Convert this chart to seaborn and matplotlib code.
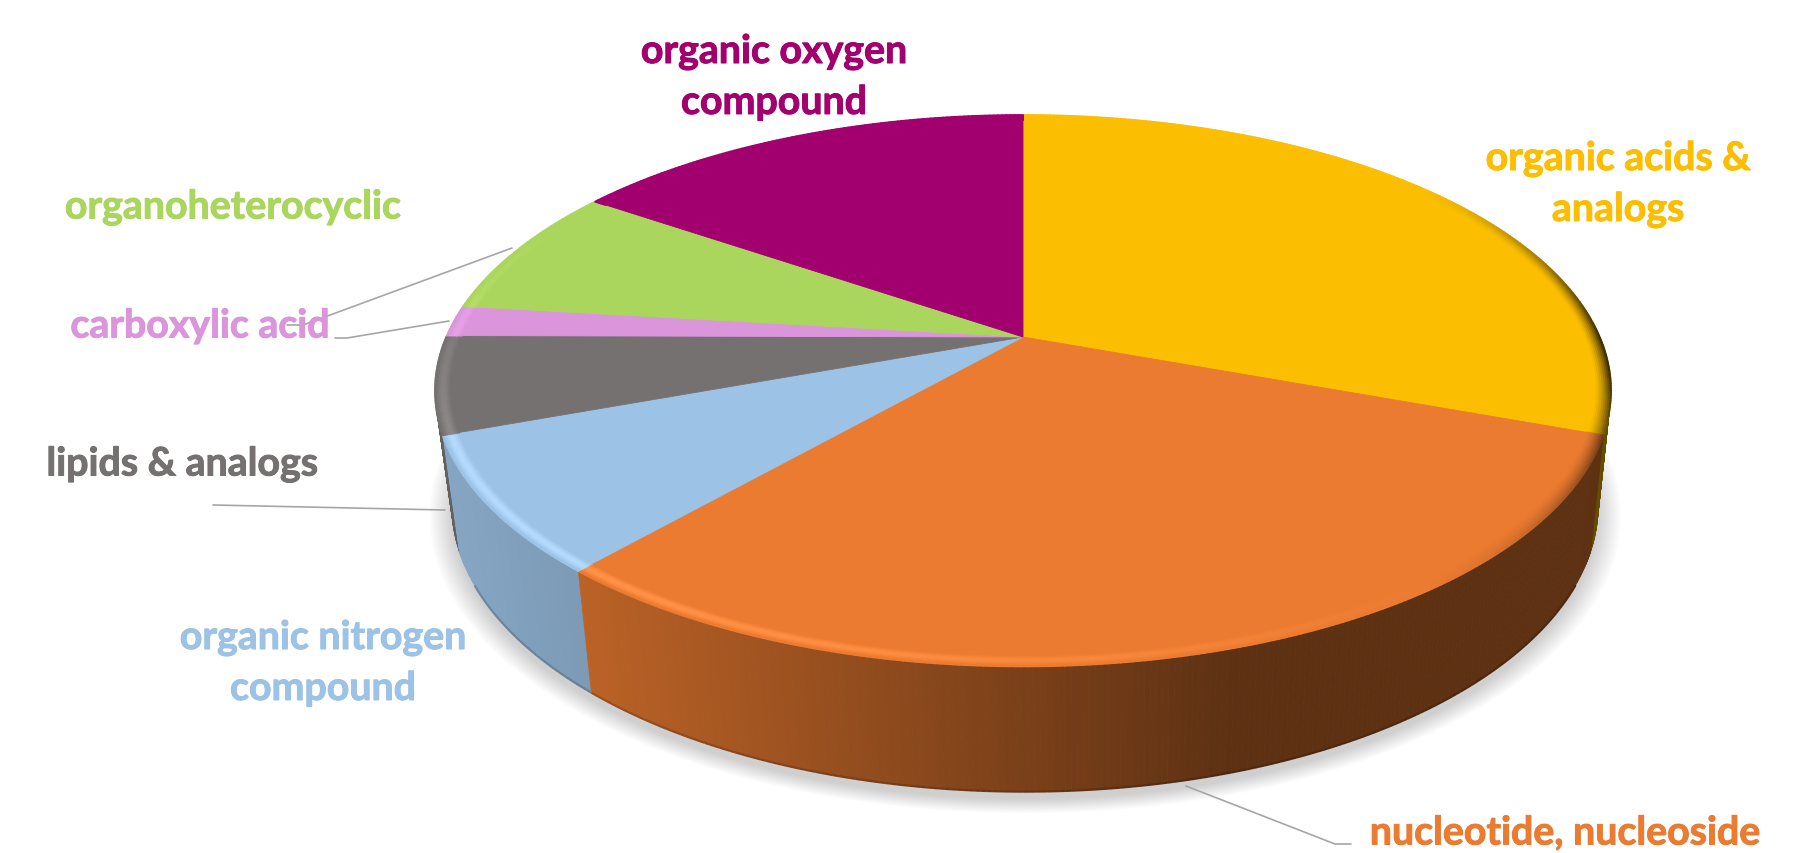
import numpy as np
import matplotlib
matplotlib.use("Agg")
import matplotlib.pyplot as plt
import matplotlib.patheffects as pe
import matplotlib.transforms as mtrans
from matplotlib.collections import LineCollection, PolyCollection
import seaborn as sns

# values, clockwise from 12 o'clock
categories = ["organic acids &\nanalogs", "nucleotide, nucleoside", "organic nitrogen\ncompound",
              "lipids & analogs", "carboxylic acid", "organoheterocyclic", "organic oxygen\ncompound"]
values = [30.6, 30.8, 7.95, 5.7, 1.8, 7.7, 15.4]
hex_colors = ["#FBBE00", "#EB7B30", "#9CC2E5", "#767171", "#DB95DB", "#AAD65E", "#A3006F"]

# label centres in pixels
label_x = [1618, 1565, 323, 182, 200, 233, 774]
label_y = [185, 834, 664, 465, 327, 208, 78]

# leader lines
leaders = [
    ([1186, 1335, 1351], [787, 845, 845]),
    ([213, 445], [506, 511]),
    ([449, 347, 335], [322, 339, 339]),
    ([512, 303, 287], [249, 326, 326]),
]

# tilt of the disc, in pixels
CX, CY = 1023, 338
A, B, K = 576.5, 265.0, 0.195
BOTTOM_X, BOTTOM_DX, BOTTOM_CY, BOTTOM_B = 0.975, 2, 451, 275

sns.set_theme(style="white")
plt.rcParams["font.family"] = ["Lato", "DejaVu Sans"]
palette = sns.color_palette(hex_colors)


def top_xy(u, v):
    w = 1 + K * v
    return CX + A * u / w, CY - B * v / w


def bottom_xy(u, v):
    w = 1 + K * v
    return CX + BOTTOM_DX + BOTTOM_X * A * u / w, BOTTOM_CY - BOTTOM_B * v / w


class Tilt(mtrans.Transform):
    input_dims = 2
    output_dims = 2
    is_separable = False
    has_inverse = False

    def transform_non_affine(self, values):
        values = np.asarray(values, dtype=float)
        x, y = top_xy(values[:, 0], values[:, 1])
        return np.column_stack([x, y])


def wall_shade(x):
    return np.interp(x, [455, 590, 1000, 1230], [0.85, 0.79, 0.535, 0.40])


fig = plt.figure(figsize=(18.19, 8.54), dpi=100)
ax = fig.add_axes([0, 0, 1, 1])

wedges, _ = ax.pie(values, colors=palette, startangle=90, counterclock=False,
                   wedgeprops={"linewidth": 0.6, "zorder": 5})
ax.set_aspect("auto")
ax.set_xlim(0, 1819)
ax.set_ylim(854, 0)
ax.axis("off")

tilt = Tilt()
for w, c in zip(wedges, palette):
    w.set_transform(tilt + ax.transData)
    w.set_edgecolor(c)
    w.set_clip_on(False)

# soft shadow under the disc
t = np.radians(np.linspace(0, 360, 361))
for i in range(24):
    grow = 1.04 - i * 0.0018
    sx, sy = bottom_xy(np.cos(t), np.sin(t))
    sx = CX + (sx - CX) * grow
    sy = (BOTTOM_CY + 8) + (sy - BOTTOM_CY) * grow
    ax.fill(sx, sy, color="#808080", alpha=0.016, lw=0, zorder=1)

# side wall, strips from back to front
strips = []
for w, c in zip(wedges, palette):
    for a0 in np.arange(w.theta1, w.theta2, 0.5):
        a1 = min(a0 + 0.5, w.theta2)
        mid = np.radians((a0 + a1) / 2)
        if np.sin(mid) > 0.1:
            continue
        r0, r1 = np.radians(a0), np.radians(a1)
        x0, y0 = top_xy(np.cos(r0), np.sin(r0))
        x1, y1 = top_xy(np.cos(r1), np.sin(r1))
        x2, y2 = bottom_xy(np.cos(r1), np.sin(r1))
        x3, y3 = bottom_xy(np.cos(r0), np.sin(r0))
        strips.append((np.sin(mid), [(x0, y0), (x1, y1), (x2, y2), (x3, y3)],
                       np.array(c) * wall_shade((x0 + x1) / 2)))
strips.sort(key=lambda s: -s[0])
ax.add_collection(PolyCollection([s[1] for s in strips], facecolors=[s[2] for s in strips],
                                 edgecolors=[s[2] for s in strips], linewidths=0.6, zorder=3))

# darker lip at the foot of the wall, front part only
lip_segs, lip_cols = [], []
for s in strips:
    if s[0] < -0.45:
        lip_segs.append([s[1][3], s[1][2]])
        lip_cols.append(s[2] * 0.82)
ax.add_collection(LineCollection(lip_segs, colors=lip_cols, linewidths=1.6, zorder=3.5))

# bevel along the rim of the top face
segs, cols = [], []
radii = np.linspace(0.974, 1.0, 9)
for w, c in zip(wedges, palette):
    c = np.array(c)
    angles = np.arange(w.theta1, w.theta2 + 0.5, 0.5)
    angles = np.clip(angles, w.theta1, w.theta2)
    for j, r in enumerate(radii):
        f = j / (len(radii) - 1)
        for a0, a1 in zip(angles[:-1], angles[1:]):
            m = np.radians((a0 + a1) / 2)
            s = -0.75 * np.cos(m) - 0.55 * np.sin(m)
            if s > 0:
                amount = min(s, 1) * np.sin(np.pi * f) ** 1.5 * max(0, min(1, 0.6 - 1.2 * np.sin(m)))
                col = np.clip(c * (1 + 0.12 * amount), 0, 1)
                col = col + (1 - col) * 0.1 * amount
            else:
                fade = max(0, np.cos(m)) ** 2
                if np.sin(m) > 0:
                    fade = fade * max(0, 1 - 1.6 * np.sin(m))
                col = c * (1 - 0.75 * min(-s * 1.5, 1) * f ** 1.5 * fade)
            r0, r1 = np.radians(a0), np.radians(a1)
            p0 = top_xy(r * np.cos(r0), r * np.sin(r0))
            p1 = top_xy(r * np.cos(r1), r * np.sin(r1))
            segs.append([p0, p1])
            cols.append(col)
ax.add_collection(LineCollection(segs, colors=cols, linewidths=1.6, capstyle="round", zorder=6))

for lx, ly in leaders:
    ax.plot(lx, ly, color="#A6A6A6", lw=1.2, zorder=7)

for name, x, y, c in zip(categories, label_x, label_y, palette):
    txt = ax.text(x, y, name, color=c, fontsize=28.3, fontweight="bold", ha="center", va="center",
                  linespacing=1.55, zorder=8)
    txt.set_path_effects([pe.withStroke(linewidth=0.7, foreground=c)])

fig.savefig("out.png", dpi=100)
